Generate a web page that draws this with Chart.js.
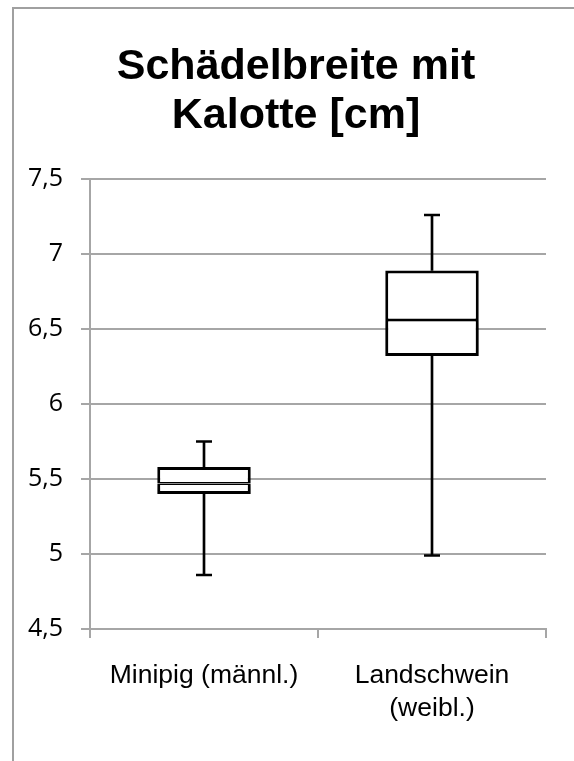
<!DOCTYPE html>
<html>
<head>
<meta charset="utf-8">
<script src="https://cdn.jsdelivr.net/npm/chart.js@4.4.1/dist/chart.umd.min.js"></script>
<style>
  html, body { margin: 0; padding: 0; background: #fff; overflow: hidden; }
  #frame {
    position: absolute; left: 12px; top: 7px; width: 700px; height: 900px;
    border-left: 2px solid #a0a0a0; border-top: 2px solid #a0a0a0;
  }
  #wrap { position: absolute; left: 0; top: 0; width: 574px; height: 761px; }
</style>
</head>
<body>
<div id="frame"></div>
<div id="wrap"><canvas id="chart"></canvas></div>
<script>
document.addEventListener("DOMContentLoaded", function() {
    // Box-plot values
    var categories = ['Minipig (männl.)', ['Landschwein', '(weibl.)']];
    var minValues = [4.86, 4.99];
    var q1Values = [5.40, 6.32];
    var medianValues = [5.47, 6.56];
    var q3Values = [5.58, 6.89];
    var maxValues = [5.75, 7.26];
    var yTicks = [4.5, 5, 5.5, 6, 6.5, 7, 7.5];

    function pairs(a, b) {
        return a.map(function(v, i) { return [v, b[i]]; });
    }

    // soft shadow under the boxes
    var boxShadow = {
        id: 'boxShadow',
        beforeDatasetDraw: function(chart, args) {
            if (chart.data.datasets[args.index].shadow) {
                var ctx = chart.ctx;
                ctx.save();
                ctx.shadowColor = 'rgba(0,0,0,0.4)';
                ctx.shadowBlur = 6;
                ctx.shadowOffsetX = 1;
                ctx.shadowOffsetY = 3;
            }
        },
        afterDatasetDraw: function(chart, args) {
            if (chart.data.datasets[args.index].shadow) {
                chart.ctx.restore();
            }
        }
    };

    // title sits a bit right of the canvas centre in the original
    var titleShift = {
        id: 'titleShift',
        beforeDraw: function(chart) {
            var t = chart.titleBlock;
            if (t) { t.left += 13; t.right += 13; }
        }
    };

    var boxStyle = {
        type: 'bar',
        backgroundColor: '#ffffff',
        borderColor: '#000000',
        borderSkipped: false,
        barPercentage: 0.41,
        categoryPercentage: 1,
        grouped: false
    };
    var whiskerStyle = {
        type: 'bar',
        backgroundColor: '#000000',
        borderWidth: 0,
        barThickness: 2,
        grouped: false
    };
    var capStyle = {
        type: 'line',
        showLine: false,
        pointStyle: 'line',
        pointRadius: 8,
        pointHoverRadius: 8,
        pointBorderWidth: 2.5,
        borderColor: '#000000',
        backgroundColor: '#000000'
    };

    var ctx = document.getElementById('chart').getContext('2d');
    var chart = new Chart(ctx, {
        data: {
            labels: categories,
            datasets: [
                Object.assign({ label: 'caps min', data: minValues, order: 5 }, capStyle),
                Object.assign({ label: 'caps max', data: maxValues, order: 5 }, capStyle),
                Object.assign({ label: 'lower whisker', data: pairs(minValues, q1Values), order: 4 }, whiskerStyle),
                Object.assign({ label: 'upper whisker', data: pairs(q3Values, maxValues), order: 4 }, whiskerStyle),
                Object.assign({ label: 'Q1-Median', data: pairs(q1Values, medianValues), order: 2, shadow: true,
                    borderWidth: { top: 1.5, bottom: 3, left: 3, right: 3 } }, boxStyle),
                Object.assign({ label: 'Median-Q3', data: pairs(medianValues, q3Values), order: 1,
                    borderWidth: { top: 3, bottom: 1.5, left: 3, right: 3 } }, boxStyle)
            ]
        },
        plugins: [boxShadow, titleShift],
        options: {
            responsive: true,
            maintainAspectRatio: false,
            animation: false,
            layout: { padding: { left: 20, right: 28, top: 0, bottom: 0 } },
            plugins: {
                legend: { display: false },
                tooltip: { enabled: false },
                title: {
                    display: true,
                    text: ['Schädelbreite mit', 'Kalotte [cm]'],
                    color: '#000000',
                    font: { family: '"Liberation Sans", Arial, sans-serif', size: 43, weight: 'bold', lineHeight: 1.15 },
                    padding: { top: 42, bottom: 38 }
                }
            },
            scales: {
                x: {
                    grid: {
                        drawOnChartArea: false,
                        drawTicks: true,
                        tickLength: 9,
                        color: '#a6a6a6',
                        lineWidth: 2
                    },
                    border: { color: '#a6a6a6', width: 2 },
                    ticks: {
                        color: '#000000',
                        maxRotation: 0,
                        padding: 21,
                        font: { family: '"Liberation Sans", Arial, sans-serif', size: 26.5, lineHeight: 1.25 }
                    },
                    afterFit: function(s) { s.height = 132; }
                },
                y: {
                    min: 4.5,
                    max: 7.5,
                    afterBuildTicks: function(s) {
                        s.ticks = yTicks.map(function(v) { return { value: v }; });
                    },
                    grid: {
                        color: '#a6a6a6',
                        lineWidth: 2,
                        tickLength: 9
                    },
                    border: { color: '#a6a6a6', width: 2 },
                    ticks: {
                        color: '#000000',
                        padding: 18,
                        font: { family: '"Open Sans", sans-serif', size: 25 },
                        callback: function(v) { return String(v).replace('.', ','); }
                    },
                    afterFit: function(s) { s.width = 70; }
                }
            }
        }
    });
});
</script>
</body>
</html>
